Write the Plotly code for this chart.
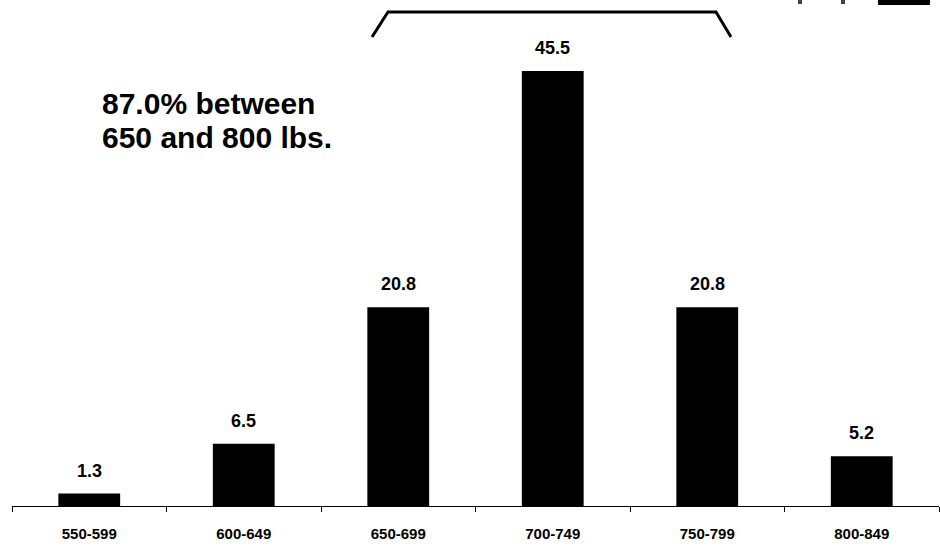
import plotly.graph_objects as go

categories = ["550-599", "600-649", "650-699", "700-749", "750-799", "800-849"]
values = [1.3, 6.5, 20.8, 45.5, 20.8, 5.2]
value_labels = ["1.3", "6.5", "20.8", "45.5", "20.8", "5.2"]
note_lines = ["87.0% between", "650 and 800 lbs."]

W, H = 940, 558
ML, MR, MT, MB = 12, 1, 0, 52
PW = W - ML - MR
PH = H - MT - MB

def px(x):
    return (x - ML) / PW

def py(y):
    return (H - MB - y) / PH

FONT = "Liberation Sans, Arial, sans-serif"

fig = go.Figure()
fig.add_trace(go.Bar(
    x=categories, y=values, width=0.4,
    marker=dict(color="black", line=dict(width=0)),
    hoverinfo="skip",
))

for c, v, t in zip(categories, values, value_labels):
    fig.add_annotation(x=c, y=v, xref="x", yref="y", text="<b>%s</b>" % t,
                       showarrow=False, yanchor="bottom", yshift=11,
                       font=dict(family=FONT, size=18, color="black"))

for line, ypix in zip(note_lines, [103, 137]):
    fig.add_annotation(x=px(100), y=py(ypix), xref="paper", yref="paper",
                       text="<b>%s</b>" % line, showarrow=False,
                       xanchor="left", yanchor="middle", align="left",
                       font=dict(family=FONT, size=30, color="black"))

# bracket
path = "M {} {} L {} {} L {} {} L {} {}".format(
    px(372), py(37), px(388), py(12), px(716), py(12), px(731), py(37))
fig.add_shape(type="path", path=path, xref="paper", yref="paper",
              line=dict(color="black", width=3))

# partial logo at top-right
fig.add_shape(type="rect", xref="paper", yref="paper",
              x0=px(878), x1=px(930), y0=py(5), y1=py(-2),
              fillcolor="black", line=dict(width=0))
for gx in (800, 843):
    fig.add_shape(type="rect", xref="paper", yref="paper",
                  x0=px(gx - 2), x1=px(gx + 2), y0=py(4), y1=py(-2),
                  fillcolor="#444", line=dict(width=0))

fig.update_layout(
    width=W, height=H,
    margin=dict(l=ML, r=MR, t=MT, b=MB),
    paper_bgcolor="white", plot_bgcolor="white",
    showlegend=False,
    bargap=0.6,
    font=dict(family=FONT, color="black"),
)
fig.update_xaxes(
    type="category", showline=True, linecolor="black", linewidth=1,
    ticks="outside", tickson="boundaries", ticklen=5, tickcolor="black",
    tickfont=dict(family=FONT, size=15, color="black"),
    tickprefix="<b>", ticksuffix="</b>",
    ticklabelstandoff=14,
    showgrid=False, zeroline=False,
)
fig.update_yaxes(range=[0, PH / 9.56], visible=False, showgrid=False)

fig.write_html("out.html", config={"displayModeBar": False},
               post_script="document.body.style.margin='0';")
